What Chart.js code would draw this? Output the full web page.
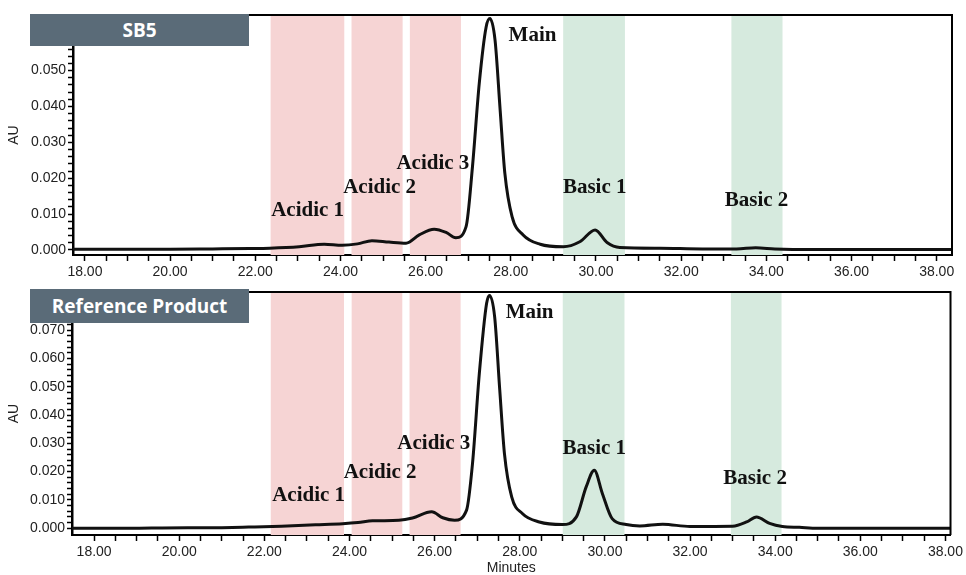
<!DOCTYPE html>
<html>
<head>
<meta charset="utf-8">
<script src="https://cdn.jsdelivr.net/npm/chart.js@4.4.1/dist/chart.umd.min.js"></script>
<style>
    body { margin: 0; background: #fff; width: 966px; height: 575px; position: relative; overflow: hidden; }
    .panel { position: absolute; left: 0; width: 966px; }
    .tag { position: absolute; left: 30px; width: 219px; background: #5a6b78; color: #fff;
           font: bold 19px "Open Sans", sans-serif; text-align: center; z-index: 2; }
</style>
</head>
<body>
<div class="panel" style="top:0;height:280px"><canvas id="sb5-chart"></canvas></div>
<div class="panel" style="top:280px;height:295px"><canvas id="ref-chart"></canvas></div>
<div class="tag" style="top:14px;height:32px;line-height:32px">SB5</div>
<div class="tag" style="top:289px;height:34px;line-height:34px">Reference Product</div>
<script>
// Ticks
const xMajorTicks = [18, 20, 22, 24, 26, 28, 30, 32, 34, 36, 38];
const sb5YTicks = [0, 0.01, 0.02, 0.03, 0.04, 0.05, 0.06];
const refYTicks = [0, 0.01, 0.02, 0.03, 0.04, 0.05, 0.06, 0.07, 0.08];

// SB5 trace (minutes / AU)
const sb5Minutes = [17.72, 19.0, 20.0, 21.0, 21.87, 22.34, 23.03, 23.62, 24.04, 24.4, 24.74, 25.14, 25.54,
    25.85, 26.2, 26.48, 26.71, 26.95, 27.1, 27.26, 27.42, 27.51, 27.63, 27.75, 27.86, 28.03, 28.29,
    28.69, 29.23, 29.62, 29.98, 30.26, 30.56, 31.5, 32.5, 33.3, 33.75, 34.2, 35.0, 36.0, 38.36];
const sb5Au = [0.0002, 0.0002, 0.0002, 0.0003, 0.0004, 0.0005, 0.0009, 0.0016, 0.0013, 0.0017, 0.0026, 0.0022, 0.0019,
    0.0042, 0.0058, 0.0049, 0.0034, 0.0065, 0.0232, 0.0465, 0.0621, 0.0645, 0.0585, 0.0390, 0.0214, 0.0093, 0.0042,
    0.0016, 0.0009, 0.0023, 0.0056, 0.0021, 0.0007, 0.0005, 0.0003, 0.0003, 0.0006, 0.0003, 0.0001, 0.0001, 0.0001];

// Reference product trace
const refMinutes = [17.48, 19.0, 19.6, 21.0, 21.63, 22.4, 23.2, 23.84, 24.2, 24.54, 25.16, 25.48, 25.93,
    26.19, 26.47, 26.75, 26.89, 27.05, 27.22, 27.29, 27.41, 27.53, 27.64, 27.81, 28.06, 28.46, 29.0,
    29.33, 29.56, 29.75, 29.94, 30.17, 30.5, 30.82, 31.36, 32.0, 33.0, 33.33, 33.56, 33.87, 34.17,
    34.57, 35.0, 38.12];
const refAu = [0.0000, 0.0000, 0.0001, 0.0002, 0.0004, 0.0007, 0.0012, 0.0016, 0.0020, 0.0026, 0.0028, 0.0036, 0.0058,
    0.0037, 0.0028, 0.0064, 0.0229, 0.0547, 0.0794, 0.0823, 0.0747, 0.0488, 0.0264, 0.0111, 0.0052, 0.0022, 0.0013,
    0.0040, 0.0146, 0.0205, 0.0123, 0.0034, 0.0013, 0.0008, 0.0014, 0.0006, 0.0007, 0.0022, 0.0040, 0.0017, 0.0006,
    0.0003, 0.0000, 0.0000];

// Integration windows (minutes)
const sb5AcidicBands = [[22.36, 24.09], [24.26, 25.46], [25.63, 26.83]];
const sb5BasicBands = [[29.23, 30.68], [33.18, 34.38]];
const refAcidicBands = [[22.15, 23.87], [24.05, 25.24], [25.41, 26.61]];
const refBasicBands = [[29.01, 30.46], [32.96, 34.15]];

// Peak names and where their labels sit (minutes, AU)
const peakNames = ['Acidic 1', 'Acidic 2', 'Acidic 3', 'Main', 'Basic 1', 'Basic 2'];
const sb5LabelAt = [[23.23, 0.0111], [24.92, 0.0173], [26.17, 0.0242], [28.51, 0.0599], [29.97, 0.0173], [33.77, 0.0139]];
const refLabelAt = [[23.04, 0.0116], [24.72, 0.0197], [25.98, 0.0298], [28.23, 0.0763], [29.75, 0.0280], [33.53, 0.0174]];

const ACIDIC_COLOR = '#f6d4d4';
const BASIC_COLOR = '#d6eade';
const TICK_FONT = { family: '"Liberation Sans", Arial, sans-serif', size: 14 };

// fill in minor ticks between the major ones
function withMinorTicks(majors, parts) {
    const out = [];
    for (let i = 0; i < majors.length - 1; i++) {
        const step = (majors[i + 1] - majors[i]) / parts;
        for (let k = 0; k < parts; k++) out.push(majors[i] + step * k);
    }
    out.push(majors[majors.length - 1]);
    return out;
}

function isMajor(list, v) {
    return list.some(t => Math.abs(t - v) < 1e-9);
}

const bandsPlugin = {
    id: 'bands',
    beforeDatasetsDraw(chart, args, opts) {
        const { ctx, chartArea, scales } = chart;
        ctx.save();
        const fillBands = (bands, color) => {
            ctx.fillStyle = color;
            bands.forEach(b => {
                const x1 = scales.x.getPixelForValue(b[0]);
                const x2 = scales.x.getPixelForValue(b[1]);
                ctx.fillRect(x1, chartArea.top, x2 - x1, chartArea.bottom - chartArea.top);
            });
        };
        fillBands(opts.acidic, ACIDIC_COLOR);
        fillBands(opts.basic, BASIC_COLOR);
        ctx.restore();
    }
};

const peakLabelsPlugin = {
    id: 'peakLabels',
    afterDatasetsDraw(chart, args, opts) {
        const { ctx, scales } = chart;
        ctx.save();
        ctx.font = 'bold 21px "Liberation Serif", "Times New Roman", serif';
        ctx.fillStyle = '#111';
        ctx.textAlign = 'center';
        ctx.textBaseline = 'middle';
        peakNames.forEach((name, i) => {
            const at = opts.positions[i];
            ctx.fillText(name, scales.x.getPixelForValue(at[0]), scales.y.getPixelForValue(at[1]));
        });
        ctx.restore();
    }
};

// top and right edges of the plot box
const framePlugin = {
    id: 'frame',
    afterDraw(chart) {
        const { ctx, chartArea } = chart;
        ctx.save();
        ctx.strokeStyle = '#000';
        ctx.lineWidth = 2;
        ctx.beginPath();
        ctx.moveTo(chartArea.left, chartArea.top);
        ctx.lineTo(chartArea.right, chartArea.top);
        ctx.lineTo(chartArea.right, chartArea.bottom);
        ctx.stroke();
        ctx.restore();
    }
};

function renderChromatogram(canvasId, cfg) {
    const ctx = document.getElementById(canvasId).getContext('2d');
    const points = cfg.minutes.map((m, i) => ({ x: m, y: cfg.au[i] }));

    return new Chart(ctx, {
        type: 'line',
        data: {
            datasets: [{
                data: points,
                borderColor: '#111',
                borderWidth: 3,
                pointRadius: 0,
                cubicInterpolationMode: 'monotone',
                fill: false
            }]
        },
        options: {
            responsive: true,
            maintainAspectRatio: false,
            animation: false,
            layout: { padding: { top: cfg.padTop, right: 14, left: 0, bottom: 0 } },
            plugins: {
                legend: { display: false },
                tooltip: { enabled: false },
                bands: { acidic: cfg.acidic, basic: cfg.basic },
                peakLabels: { positions: cfg.labelAt }
            },
            scales: {
                x: {
                    type: 'linear',
                    min: cfg.xMin,
                    max: cfg.xMax,
                    afterBuildTicks: scale => {
                        scale.ticks = withMinorTicks(xMajorTicks, 4).map(v => ({ value: v }));
                    },
                    afterFit: scale => { scale.height = cfg.xAxisHeight; },
                    ticks: {
                        autoSkip: false,
                        maxRotation: 0,
                        padding: 3,
                        color: '#222',
                        font: TICK_FONT,
                        callback: v => isMajor(xMajorTicks, v) ? v.toFixed(2) : ''
                    },
                    grid: { drawOnChartArea: false, tickLength: 6, tickColor: '#000', tickWidth: 1.5 },
                    border: { color: '#000', width: 2 },
                    title: {
                        display: cfg.showMinutes,
                        text: 'Minutes',
                        color: '#222',
                        font: { family: TICK_FONT.family, size: 14, lineHeight: 1 },
                        padding: { top: 0, bottom: 0 }
                    }
                },
                y: {
                    min: cfg.yMin,
                    max: cfg.yMax,
                    afterBuildTicks: scale => {
                        scale.ticks = withMinorTicks(cfg.yTicks, 5).map(v => ({ value: v }));
                    },
                    afterFit: scale => { scale.width = cfg.yAxisWidth; },
                    ticks: {
                        autoSkip: false,
                        padding: 2,
                        color: '#222',
                        font: TICK_FONT,
                        callback: v => isMajor(cfg.yTicks, v) ? v.toFixed(3) : ''
                    },
                    grid: { drawOnChartArea: false, tickLength: 5, tickColor: '#000', tickWidth: 1.5 },
                    border: { color: '#000', width: 2.5 },
                    title: {
                        display: true,
                        text: 'AU',
                        color: '#222',
                        font: { family: TICK_FONT.family, size: 14 },
                        padding: { top: 6, bottom: 0 }
                    }
                }
            }
        },
        plugins: [bandsPlugin, peakLabelsPlugin, framePlugin]
    });
}

renderChromatogram('sb5-chart', {
    minutes: sb5Minutes, au: sb5Au,
    acidic: sb5AcidicBands, basic: sb5BasicBands, labelAt: sb5LabelAt,
    yTicks: sb5YTicks,
    xMin: 17.72, xMax: 38.36, yMin: -0.0014, yMax: 0.0655,
    padTop: 15, xAxisHeight: 25, yAxisWidth: 73, showMinutes: false
});

renderChromatogram('ref-chart', {
    minutes: refMinutes, au: refAu,
    acidic: refAcidicBands, basic: refBasicBands, labelAt: refLabelAt,
    yTicks: refYTicks,
    xMin: 17.48, xMax: 38.12, yMin: -0.0024, yMax: 0.0835,
    padTop: 12, xAxisHeight: 40, yAxisWidth: 72, showMinutes: true
});
</script>
</body>
</html>
